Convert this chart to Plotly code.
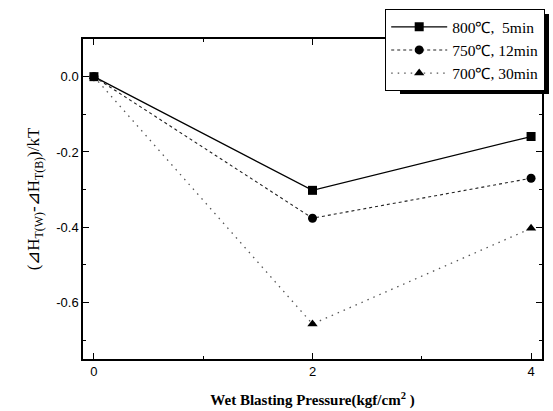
import plotly.graph_objects as go

pressure = [0, 2, 4]
series_names = ["800℃,  5min", "750℃, 12min", "700℃, 30min"]
v800 = [0.0, -0.302, -0.159]
v750 = [0.0, -0.376, -0.270]
v700 = [0.0, -0.657, -0.403]
x_ticks = [0, 2, 4]
y_ticks = [0.0, -0.2, -0.4, -0.6]
y_tick_labels = ["0.0", "-0.2", "-0.4", "-0.6"]

fig = go.Figure()
styles = [
    (v800, "square", "solid", "black", 1.3),
    (v750, "circle", "3px,3px", "#222", 1.1),
    (v700, "triangle-up", "1.5px,5px", "#555", 1.3),
]
for name, (vals, sym, dash, col, w) in zip(series_names, styles):
    fig.add_trace(go.Scatter(
        x=pressure, y=vals, name=name, mode="lines+markers",
        line=dict(color=col, width=w, dash=dash),
        marker=dict(symbol=sym, size=9, color="black"),
    ))

axis_common = dict(
    showline=True, linecolor="black", linewidth=1.5, mirror="ticks",
    ticks="inside", ticklen=6, tickwidth=1.2, tickcolor="black",
    showgrid=False, zeroline=False,
    tickfont=dict(family="Liberation Sans", size=13, color="black"),
)
fig.update_xaxes(range=[-0.1, 4.1], tickvals=x_ticks,
                 minor=dict(ticks="inside", ticklen=3, dtick=1, tickcolor="black"),
                 title=dict(text="<b>Wet Blasting Pressure(kgf/cm<sup>2</sup> )</b>",
                            font=dict(family="Liberation Serif", size=15, color="black"),
                            standoff=16),
                 **axis_common)
fig.update_yaxes(range=[-0.75, 0.1], tickvals=y_ticks, ticktext=y_tick_labels,
                 minor=dict(ticks="inside", ticklen=3, dtick=0.1, tickcolor="black"),
                 title=dict(text="(⊿H<sub>T(W)</sub>-⊿H<sub>T(B)</sub>)/kT",
                            font=dict(family="Liberation Serif", size=17, color="black"),
                            standoff=12),
                 **axis_common)

W, L, T, B = 459, 83, 39, 359
# legend shadow
fig.add_shape(type="rect", xref="paper", yref="paper",
              x0=(400 - L) / W, x1=(549 - L) / W,
              y0=(B - 94) / 320, y1=(B - 14) / 320,
              fillcolor="black", line=dict(width=0), layer="above")

fig.update_layout(
    width=553, height=411,
    margin=dict(l=83, r=11, t=39, b=52, autoexpand=False),
    paper_bgcolor="white", plot_bgcolor="white",
    showlegend=True,
    legend=dict(xref="paper", yref="paper",
                x=(545 - L) / W, y=(B - 9) / 320, xanchor="right", yanchor="top",
                bgcolor="white", bordercolor="black", borderwidth=1.2,
                font=dict(family="Liberation Serif", size=15.5, color="black"),
                itemwidth=56, tracegroupgap=0),
)
fig.write_html("out.html")
